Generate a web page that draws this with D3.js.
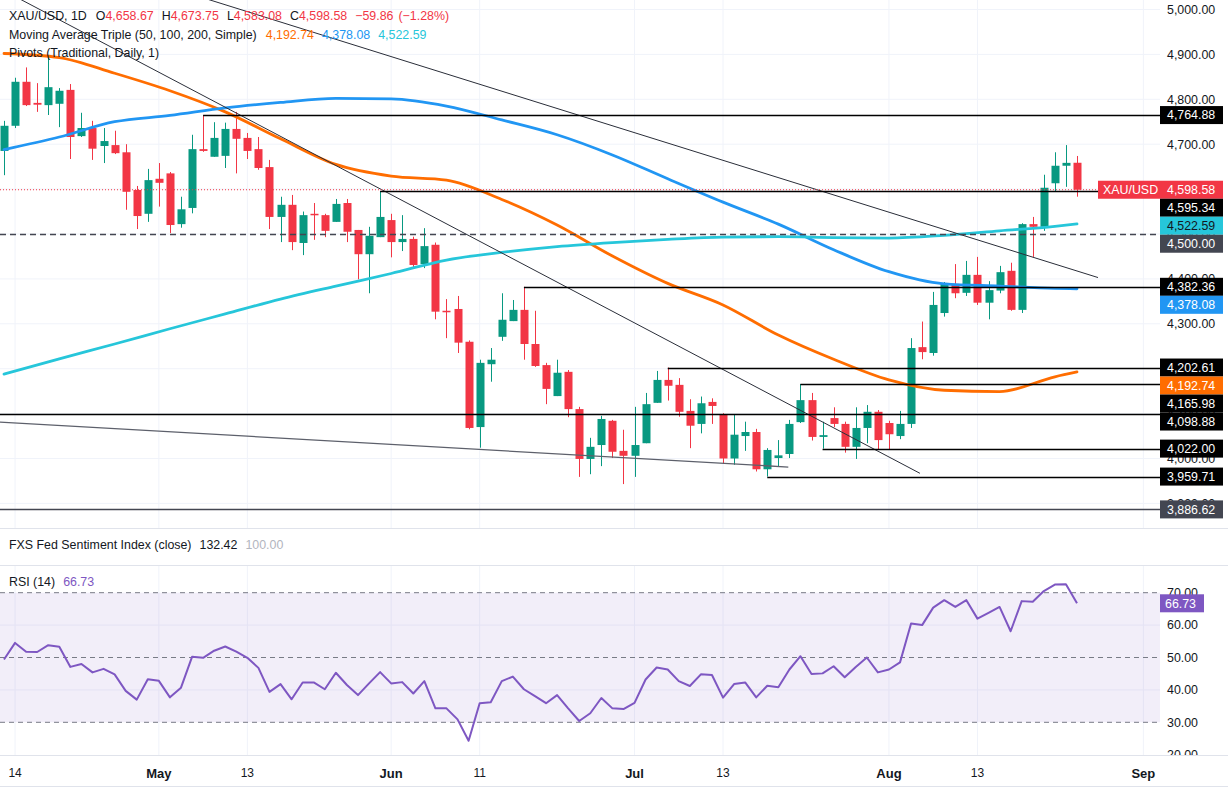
<!DOCTYPE html>
<html>
<head>
<meta charset="utf-8">
<script src="https://cdn.jsdelivr.net/npm/d3@7/dist/d3.min.js"></script>
<style>
html,body{margin:0;padding:0;background:#fff;}
svg{display:block;font-family:"Liberation Sans",Arial,sans-serif;}
</style>
</head>
<body>
<svg id="chart" width="1228" height="787"></svg>
<script>
// ---------------- DATA ----------------
const opens  = [4685,4741,4839,4792,4787,4790,4821,4718,4736,4696,4698,4682,4598,4545,4623,4635,4522,4558,4689,4672,
4674,4734,4714,4689,4649,4538,4565,4480,4545,4542,4527,4569,4509,4455,4493,4531,4482,4489,4433,4476,
4329,4333,4260,4070,4210,4271,4306,4331,4255,4208,4139,4193,4110,3999,4030,4084,4017,4006,4034,4124,
4175,4164,4106,4077,4126,4099,4000,4050,4059,3976,4001,4010,4081,4130,4048,4090,4077,4026,4068,4104,
4079,4050,4077,4248,4235,4324,4389,4369,4409,4347,4374,4418,4331,4522,4516,4613,4652,4658.67];
const highs  = [4752,4848,4871,4836,4896,4825,4834,4770,4752,4736,4730,4700,4607,4645,4658,4638,4583,4721,4764.88,4749,
4748,4772,4725,4716,4665,4583,4587,4550,4569,4545,4578,4578,4509,4516,4595.34,4545,4542,4494,4513,4481,
4355,4362,4263,4220,4246,4368,4353,4382.36,4329,4213,4220,4197,4115,4046,4095,4086,4064,4115,4146,4195,
4202.61,4179,4132,4138,4134,4101,4097,4082,4066,4023,4041,4086,4165.98,4146,4082,4114,4082,4114,4119,4108,
4084,4106,4268,4305,4371,4393,4433,4440,4449,4395,4429,4436,4524,4538,4632,4682,4698,4673.75];
const lows   = [4631,4736,4785,4772,4765,4738,4667,4716,4665,4658,4678,4554,4511,4527,4561,4502,4514,4546,4683,4672,
4647,4635,4667,4643,4511,4482,4464,4453,4487,4493,4527,4482,4399,4368,4493,4448,4462,4424,4424,4310,
4268,4235,4065,4024,4171,4262,4306,4220,4204,4121,4139,4092,3959,3965,3983,4001,3943,3959,4034,4124,
4129,4093,4023,4056,4077,3988,3986,4017,3971,3959.71,3982,4001,4079,4040,4022,4070,4013,3999,4034,4019,
4021,4043,4068,4221,4229,4316,4357,4362,4342,4310,4368,4329,4324,4449,4507,4594,4605,4583.08];
const closes = [4741,4839,4787,4788,4827,4819,4716,4736,4690,4707,4680,4594,4540,4620,4614,4520,4555,4689,4685,4714,
4734,4712,4685,4647,4538,4565,4482,4542,4542,4507,4567,4505,4455,4496,4538,4482,4489,4431,4473,4327,
4326,4258,4068,4213,4220,4309,4331,4255,4206,4155,4191,4110,3999,4026,4088,4015,4006,4030,4121,4175,
4162,4104,4073,4123,4117,4000,4053,4059,3976,4019,4007,4077,4130,4048,4052,4077,4026,4068,4104,4041,
4054,4077,4246,4237,4342,4391,4368,4409,4347,4375,4415,4331,4522,4516,4603,4652,4658.44,4598.58];

const rsi = [49.4,54.5,51.8,51.7,53.8,53.3,47.1,48.0,45.4,46.5,44.8,39.7,37.0,43.3,42.8,37.7,40.7,50.2,49.9,52.1,
53.4,51.8,49.9,46.8,39.4,41.8,37.1,42.3,42.3,40.2,45.3,41.5,38.4,42.0,45.5,42.0,42.4,38.9,42.7,34.3,
34.3,30.9,24.3,35.9,36.2,42.7,44.1,40.2,38.1,35.9,38.4,34.3,30.4,32.8,37.5,34.3,34.1,36.0,43.2,46.9,
46.3,42.7,41.2,44.8,44.6,37.6,41.8,42.3,37.7,41.3,40.8,46.3,50.4,44.9,45.1,47.3,43.9,47.1,50.0,45.4,
46.3,48.5,60.5,60.0,65.4,67.7,65.6,67.7,62.0,63.8,65.6,58.1,67.4,67.2,70.5,72.5,72.6,66.73];

// moving averages, sampled at these bar indices
const maIndex = [0,5,10,15,20,25,30,35,40,45,50,55,60,65,70,75,80,85,90,95,97];
const ma50  = [4902,4893,4858,4819,4772,4712,4655,4629,4620,4577,4520,4451,4390,4342,4275,4221,4175,4152,4149,4182,4192.74];
const ma100 = [4688,4716,4750,4764,4781,4793,4802,4801,4785,4754,4721,4676,4623,4571,4522,4465,4416,4389,4384,4379,4378.08];
const ma200 = [4188,4222,4255,4289,4322,4355,4384,4412,4442,4459,4472,4481,4488,4493,4494,4492,4491,4497,4507,4517,4522.59];

// pivot levels and the bar they start from (-1 = from the left edge)
const pivotLevels = [4764.88,4595.34,4500.00,4382.36,4202.61,4165.98,4098.88,4022.00,3959.71,3886.62];
const pivotStart  = [18,34,-1,47,60,72,-1,74,69,-1];

// trend lines: [barIndex, price] pairs
const trendA = [[-1,5055],[82.8,3967]];
const trendB = [[18,5026],[98.9,4403]];
const trendC = [[-1,4082],[70.9,3981]];

const priceTicks = [3900,4000,4100,4200,4300,4400,4500,4600,4700,4800,4900,5000];
const rsiTicks = [20,30,40,50,60,70];
const timeLabels = ["14","May","13","Jun","11","Jul","13","Aug","13","Sep"];
const timeIndex  = [1,14,22,35,43,57,65,80,88,103];
const monthLabel = [false,true,false,true,false,true,false,true,false,true];

// ---------------- LAYOUT ----------------
const W = 1228, H = 787, PR = 1160;
const MAIN_B = 528, RSI_T = 565, RSI_B = 755;
const UP = "#089981", DN = "#f23645", TXT = "#131722";
const C50 = "#ff6d00", C100 = "#2196f3", C200 = "#26c6da", CRSI = "#7e57c2";
const fmt = d3.format(",.2f");

const svg = d3.select("#chart");
const x = d3.scaleLinear().domain([0, 97]).range([4, 1077]);
const y = d3.scaleLinear().domain([3886.62, 5000]).range([509.4, 9.5]);
const yR = d3.scaleLinear().domain([30, 70]).range([722.3, 592.7]);

const defs = svg.append("defs");
defs.append("clipPath").attr("id","cMain").append("rect").attr("x",0).attr("y",0).attr("width",PR).attr("height",MAIN_B);
defs.append("clipPath").attr("id","cRsi").append("rect").attr("x",0).attr("y",RSI_T).attr("width",PR).attr("height",RSI_B-RSI_T);

// grid
const grid = svg.append("g");
grid.selectAll(".hg").data(priceTicks).join("line")
  .attr("x1",0).attr("x2",PR).attr("y1",d=>y(d)).attr("y2",d=>y(d))
  .attr("stroke","#f0f3fa").attr("stroke-width",1);
grid.selectAll(".vg").data(timeIndex).join("line")
  .attr("x1",d=>x(d)).attr("x2",d=>x(d)).attr("y1",0).attr("y2",MAIN_B)
  .attr("stroke","#f0f3fa").attr("stroke-width",1);
grid.selectAll(".vg2").data(timeIndex).join("line")
  .attr("x1",d=>x(d)).attr("x2",d=>x(d)).attr("y1",RSI_T).attr("y2",RSI_B)
  .attr("stroke","#f0f3fa").attr("stroke-width",1);
grid.selectAll(".hr").data([40,60]).join("line")
  .attr("x1",0).attr("x2",PR).attr("y1",d=>yR(d)).attr("y2",d=>yR(d))
  .attr("stroke","#f0f3fa").attr("stroke-width",1);

// ---------------- MAIN PANE ----------------
const main = svg.append("g").attr("clip-path","url(#cMain)");

// candles
const bars = d3.range(opens.length);
const cg = main.append("g");
cg.selectAll(".wick").data(bars).join("line")
  .attr("x1",i=>Math.round(x(i))+0.5).attr("x2",i=>Math.round(x(i))+0.5)
  .attr("y1",i=>y(highs[i])).attr("y2",i=>y(lows[i]))
  .attr("stroke",i=>closes[i]>=opens[i]?UP:DN).attr("stroke-width",1);
cg.selectAll(".body").data(bars).join("rect")
  .attr("x",i=>Math.round(x(i))-3.5).attr("width",8)
  .attr("y",i=>y(Math.max(opens[i],closes[i])))
  .attr("height",i=>Math.max(1.5, Math.abs(y(opens[i])-y(closes[i]))))
  .attr("fill",i=>closes[i]>=opens[i]?UP:DN);

// moving averages
const maLine = d3.line().x(d=>x(d[0])).y(d=>y(d[1])).curve(d3.curveMonotoneX);
[[ma50,C50],[ma100,C100],[ma200,C200]].forEach(([arr,col])=>{
  main.append("path").datum(maIndex.map((k,j)=>[k,arr[j]]))
    .attr("d",maLine).attr("fill","none").attr("stroke",col)
    .attr("stroke-width",2.8).attr("stroke-linecap","round");
});

// trend lines
const tl = d3.line().x(d=>x(d[0])).y(d=>y(d[1]));
main.append("path").datum(trendA).attr("d",tl).attr("stroke","#2a2e39").attr("stroke-width",1).attr("fill","none");
main.append("path").datum(trendB).attr("d",tl).attr("stroke","#2a2e39").attr("stroke-width",1).attr("fill","none");
main.append("path").datum(trendC).attr("d",tl).attr("stroke","#5d606b").attr("stroke-width",1.3).attr("fill","none");

// pivots
pivotLevels.forEach((v,k)=>{
  const dashed = v===4500;
  const grey = v===3886.62;
  main.append("line")
    .attr("x1", pivotStart[k] < 0 ? 0 : x(pivotStart[k]))
    .attr("x2", PR).attr("y1", Math.round(y(v))+0.5).attr("y2", Math.round(y(v))+0.5)
    .attr("stroke", (grey || dashed) ? "#434651" : "#000")
    .attr("stroke-width", 1.3)
    .attr("stroke-dasharray", dashed ? "6,4" : null);
});

// last price dotted line
const last = closes[closes.length-1];
const prevClose = closes[closes.length-2];
main.append("line").attr("x1",0).attr("x2",PR).attr("y1",y(last)).attr("y2",y(last))
  .attr("stroke",DN).attr("stroke-width",1).attr("stroke-dasharray","1,2");

// ---------------- RSI PANE ----------------
const rp = svg.append("g").attr("clip-path","url(#cRsi)");
rp.append("rect").attr("x",0).attr("width",PR).attr("y",yR(70)).attr("height",yR(30)-yR(70))
  .attr("fill","rgba(126,87,194,0.1)");
[70,50,30].forEach(v=>{
  rp.append("line").attr("x1",0).attr("x2",PR).attr("y1",yR(v)).attr("y2",yR(v))
    .attr("stroke","#787b86").attr("stroke-width",1).attr("stroke-dasharray","5,4");
});
rp.append("path").datum(rsi)
  .attr("d", d3.line().x((d,i)=>x(i)).y(d=>yR(d)))
  .attr("fill","none").attr("stroke",CRSI).attr("stroke-width",2).attr("stroke-linejoin","round");

// ---------------- RIGHT LABELS (stacked) ----------------
const labels = pivotLevels.map(v=>({v, bg: (v===4500||v===3886.62)?"#434651":"#000", fg:"#fff"}));
labels.push({v:last, bg:DN, fg:"#fff", price:true});
labels.push({v:ma200[ma200.length-1], bg:C200, fg:TXT});
labels.push({v:ma100[ma100.length-1], bg:C100, fg:"#fff"});
labels.push({v:ma50[ma50.length-1], bg:C50, fg:"#fff"});
labels.forEach(l=>l.y=y(l.v));
labels.sort((a,b)=>a.y-b.y);
let prev = -1e9;
labels.forEach(l=>{ l.py = Math.max(l.y, prev+18); prev = l.py; });

// axis ticks (ticks fully hidden behind a label box are skipped)
const hidden = t => labels.some(l => Math.abs(l.py - y(t)) < 6 || (l.py - 9 < y(t) - 5 && l.py + 9 > y(t) + 5));
const ax = svg.append("g").attr("font-size","12.4px").attr("fill",TXT);
ax.selectAll(".pt").data(priceTicks.filter(t=>!hidden(t))).join("text")
  .attr("x",1167).attr("y",d=>y(d)).attr("dy","0.35em").text(d=>fmt(d));
ax.selectAll(".rt").data(rsiTicks).join("text")
  .attr("x",1167).attr("y",d=>yR(d)).attr("dy","0.35em").text(d=>fmt(d));
// pane bottoms mask axis text overflow
svg.append("rect").attr("x",1160).attr("y",RSI_B+1).attr("width",68).attr("height",H-RSI_B-1).attr("fill","#fff");
svg.append("rect").attr("x",1160).attr("y",MAIN_B+1).attr("width",68).attr("height",RSI_T-MAIN_B-1).attr("fill","#fff");

// separators
[MAIN_B, RSI_T, RSI_B, H-1].forEach(yy=>{
  svg.append("line").attr("x1",0).attr("x2",W).attr("y1",yy+0.5).attr("y2",yy+0.5)
    .attr("stroke","#e0e3eb").attr("stroke-width",1);
});

const lg = svg.append("g").attr("font-size","12.4px");
labels.forEach(l=>{
  if(l.price){
    lg.append("rect").attr("x",1098).attr("y",l.py-9).attr("width",125).attr("height",18).attr("fill",l.bg);
    lg.append("text").attr("x",1103).attr("y",l.py).attr("dy","0.35em").attr("fill","#fff").text("XAU/USD");
  } else {
    lg.append("rect").attr("x",1160).attr("y",l.py-9).attr("width",63).attr("height",18).attr("fill",l.bg);
  }
  lg.append("text").attr("x",1167).attr("y",l.py).attr("dy","0.35em").attr("fill",l.fg).text(fmt(l.v));
});
// RSI label
const rl = rsi[rsi.length-1];
lg.append("rect").attr("x",1160).attr("y",yR(rl)-9).attr("width",44).attr("height",18).attr("fill",CRSI);
lg.append("text").attr("x",1165).attr("y",yR(rl)).attr("dy","0.35em").attr("fill","#fff").text(d3.format(".2f")(rl));

// time axis labels
svg.append("g").selectAll("text").data(timeLabels).join("text")
  .attr("x",(d,i)=>x(timeIndex[i])).attr("y",773).attr("dy","0.35em")
  .attr("text-anchor","middle").attr("fill",TXT)
  .attr("font-size",(d,i)=>monthLabel[i]?"13px":"12px")
  .attr("font-weight",(d,i)=>monthLabel[i]?"600":"normal")
  .text(d=>d);

// ---------------- LEGENDS ----------------
const leg = svg.append("g").attr("font-size","12.4px").attr("fill",TXT);
const chg = last - prevClose;
const t1 = leg.append("text").attr("x",9).attr("y",16).attr("dy","0.35em");
t1.append("tspan").text("XAU/USD, 1D");
[["O",opens],["H",highs],["L",lows],["C",closes]].forEach(([k,a],j)=>{
  t1.append("tspan").attr("dx", j===0?9:8).text(k);
  t1.append("tspan").attr("fill",DN).text(fmt(a[a.length-1]));
});
t1.append("tspan").attr("dx",8).attr("fill",DN).text("\u2212" + d3.format(".2f")(Math.abs(chg)));
t1.append("tspan").attr("dx",5).attr("fill",DN).text("(\u2212" + (Math.floor(Math.abs(chg/prevClose)*10000)/100).toFixed(2) + "%)");

const t2 = leg.append("text").attr("x",9).attr("y",35).attr("dy","0.35em");
t2.append("tspan").text("Moving Average Triple (50, 100, 200, Simple)");
t2.append("tspan").attr("dx",9).attr("fill",C50).text(fmt(ma50[ma50.length-1]));
t2.append("tspan").attr("dx",8).attr("fill",C100).text(fmt(ma100[ma100.length-1]));
t2.append("tspan").attr("dx",8).attr("fill",C200).text(fmt(ma200[ma200.length-1]));

leg.append("text").attr("x",9).attr("y",53).attr("dy","0.35em").text("Pivots (Traditional, Daily, 1)");

const t3 = leg.append("text").attr("x",9).attr("y",545).attr("dy","0.35em");
t3.append("tspan").text("FXS Fed Sentiment Index (close)");
t3.append("tspan").attr("dx",8).text("132.42");
t3.append("tspan").attr("dx",8).attr("fill","#b2b5be").text("100.00");

const t4 = leg.append("text").attr("x",9).attr("y",582).attr("dy","0.35em");
t4.append("tspan").text("RSI (14)");
t4.append("tspan").attr("dx",8).attr("fill",CRSI).text(d3.format(".2f")(rl));
</script>
</body>
</html>
